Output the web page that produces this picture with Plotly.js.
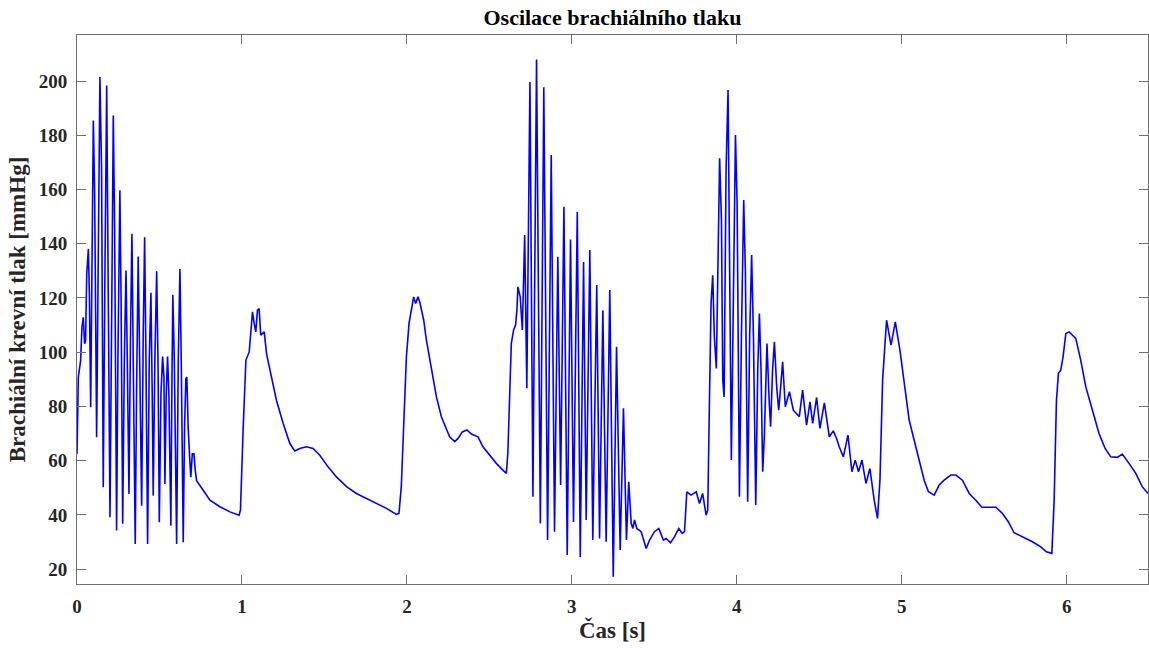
<!DOCTYPE html>
<html>
<head>
<meta charset="utf-8">
<script src="https://cdn.plot.ly/plotly-3.0.1.min.js"></script>
<style>html,body{margin:0;padding:0;background:#fff;}#chart{width:1149px;height:648px;}</style>
</head>
<body>
<div id="chart"></div>
<script>
// Time [s]
const timeA = [0, 0.008, 0.022, 0.030, 0.038, 0.046, 0.052, 0.059, 0.069, 0.075, 0.083, 0.091, 0.099, 0.107, 0.119, 0.127, 0.139, 0.149, 0.159, 0.170, 0.176, 0.180, 0.188, 0.200, 0.208, 0.220, 0.228, 0.240, 0.248, 0.256, 0.260, 0.267, 0.277, 0.287, 0.297, 0.305, 0.315, 0.325, 0.333, 0.341, 0.353, 0.361, 0.371, 0.380, 0.392, 0.402, 0.410, 0.418, 0.428, 0.438, 0.448, 0.456, 0.462, 0.472, 0.483, 0.491, 0.499, 0.509, 0.519, 0.527, 0.533, 0.541, 0.549, 0.557, 0.569, 0.575, 0.581, 0.590, 0.604, 0.614, 0.624, 0.632, 0.644, 0.652, 0.660, 0.666, 0.674, 0.684, 0.690, 0.699, 0.709, 0.717, 0.725];
const pressA = [62.5, 90.8, 96.9, 109.2, 112.9, 103.1, 104.3, 128.9, 138.1, 121.5, 79.7, 121.5, 185.5, 158.4, 68.6, 121.5, 201.5, 167.0, 50.2, 133.8, 195.3, 198.4, 133.8, 39.1, 96.9, 187.3, 146.1, 34.2, 96.9, 144.9, 159.7, 121.5, 36.7, 96.9, 130.1, 96.9, 47.7, 109.2, 143.7, 96.9, 29.3, 84.6, 135.3, 96.9, 43.4, 109.2, 142.4, 96.9, 29.3, 96.9, 121.9, 84.6, 47.1, 96.9, 129.9, 96.9, 37.3, 84.6, 98.4, 90.8, 51.4, 84.6, 98.4, 84.6, 36.0, 84.6, 121.2, 96.9, 29.3, 96.9, 130.7, 96.9, 29.9, 72.3, 90.2, 90.8, 72.3, 60.0, 53.9, 62.5, 62.5, 56.3, 52.6];

const timeB = [0.765, 0.806, 0.866, 0.927, 0.983, 0.991, 1.007, 1.024, 1.044, 1.052, 1.064, 1.074, 1.084, 1.094, 1.104, 1.114, 1.125, 1.135, 1.149, 1.179, 1.209, 1.250, 1.290, 1.320, 1.351, 1.391, 1.431, 1.472, 1.522, 1.573, 1.634, 1.694, 1.755, 1.815, 1.876, 1.936, 1.952, 1.966, 1.981, 1.997, 2.013, 2.027, 2.041, 2.053, 2.067, 2.078, 2.102, 2.118, 2.148, 2.179, 2.209, 2.239, 2.259, 2.290, 2.310, 2.336, 2.364, 2.391, 2.431, 2.461, 2.501, 2.542, 2.582, 2.603];
const pressB = [49.1, 45.4, 43.0, 41.1, 39.9, 41.8, 71.3, 97.1, 100.1, 105.7, 114.9, 110.6, 107.5, 115.5, 116.1, 106.3, 106.9, 107.5, 99.5, 90.9, 82.3, 73.7, 66.4, 63.6, 64.5, 65.1, 64.5, 62.0, 57.7, 54.0, 50.4, 47.9, 46.1, 44.2, 42.4, 40.2, 40.5, 50.4, 77.4, 98.3, 110.6, 115.5, 120.4, 118.0, 120.4, 118.5, 111.8, 104.5, 93.4, 83.5, 76.2, 71.3, 68.8, 67.0, 68.2, 70.6, 71.3, 69.8, 68.8, 65.1, 62.0, 59.0, 56.5, 55.3];

const timeC = [2.612, 2.633, 2.647, 2.659, 2.667, 2.673, 2.687, 2.700, 2.714, 2.727, 2.746, 2.764, 2.786, 2.809, 2.830, 2.853, 2.875, 2.895, 2.915, 2.932, 2.952, 2.972, 2.992, 3.010, 3.033, 3.051, 3.071, 3.087, 3.109, 3.127, 3.151, 3.168, 3.188, 3.208, 3.230, 3.251, 3.271, 3.293, 3.313, 3.331, 3.345, 3.360, 3.370, 3.380, 3.394, 3.420, 3.451, 3.471];
const pressC = [62.7, 103.2, 108.2, 110.0, 115.5, 124.1, 120.4, 108.2, 143.2, 86.7, 199.7, 46.7, 208.0, 36.8, 197.7, 30.7, 172.7, 33.8, 135.2, 51.0, 153.6, 25.2, 141.6, 37.4, 151.8, 24.5, 133.3, 38.1, 137.7, 30.7, 124.8, 31.3, 115.5, 30.1, 122.9, 17.2, 102.0, 27.0, 79.3, 30.7, 52.2, 36.8, 35.0, 38.1, 35.0, 33.8, 27.6, 30.7];

const timeD = [3.501, 3.527, 3.555, 3.572, 3.598, 3.622, 3.648, 3.669, 3.683, 3.697, 3.723, 3.754, 3.774, 3.793, 3.814, 3.824, 3.834, 3.844, 3.854, 3.864, 3.876, 3.887, 3.896, 3.907, 3.915, 3.923, 3.935, 3.947, 3.955, 3.967, 3.979, 3.992, 4.002, 4.016, 4.028, 4.042, 4.052, 4.066, 4.078, 4.090, 4.101, 4.115, 4.127, 4.137, 4.147, 4.157, 4.167, 4.183, 4.197, 4.205, 4.217, 4.228, 4.242, 4.254, 4.266, 4.278, 4.294];
const pressD = [33.8, 35.0, 30.7, 31.3, 29.7, 31.9, 35.0, 33.2, 33.8, 48.5, 47.3, 48.5, 44.2, 47.9, 39.9, 41.8, 81.1, 118.0, 128.4, 105.7, 94.0, 135.2, 171.5, 148.7, 89.7, 83.5, 167.2, 196.7, 148.7, 60.2, 118.0, 180.1, 154.9, 46.7, 105.7, 156.1, 130.3, 44.8, 105.7, 135.8, 105.7, 43.6, 93.4, 114.3, 93.4, 55.9, 68.8, 103.2, 81.1, 72.5, 93.4, 103.8, 87.2, 78.6, 87.2, 96.5, 79.9];

const timeE = [4.319, 4.343, 4.363, 4.379, 4.399, 4.423, 4.444, 4.460, 4.484, 4.504, 4.531, 4.561, 4.585, 4.605, 4.621, 4.646, 4.674, 4.698, 4.718, 4.738, 4.759, 4.783, 4.807, 4.833, 4.853, 4.868, 4.884, 4.908, 4.935, 4.961, 4.989, 5.015, 5.045, 5.075, 5.106, 5.136, 5.162, 5.197, 5.227, 5.257, 5.298, 5.328, 5.368, 5.409];
const pressE = [85.4, 78.6, 77.4, 76.2, 86.0, 73.1, 81.7, 73.7, 83.3, 71.9, 81.3, 68.8, 71.0, 68.2, 65.1, 61.4, 69.4, 55.9, 60.2, 55.9, 60.2, 51.6, 57.1, 45.4, 38.7, 52.8, 89.7, 111.8, 102.6, 111.2, 100.8, 88.5, 75.0, 67.6, 60.2, 52.8, 48.5, 47.3, 51.0, 52.8, 54.7, 54.7, 52.8, 47.9];

const timeF = [5.449, 5.486, 5.530, 5.571, 5.611, 5.647, 5.681, 5.732, 5.792, 5.843, 5.877, 5.910, 5.924, 5.938, 5.950, 5.964, 5.978, 5.995, 6.015, 6.055, 6.085, 6.116, 6.156, 6.196, 6.233, 6.267, 6.307, 6.337, 6.378, 6.419, 6.458, 6.493];
const pressF = [45.4, 42.8, 42.8, 42.8, 40.5, 37.4, 33.4, 31.9, 30.1, 28.2, 26.4, 25.8, 45.4, 82.3, 92.2, 93.4, 98.3, 106.9, 107.5, 105.1, 97.1, 87.2, 78.6, 70.0, 64.5, 61.4, 61.2, 62.4, 59.0, 55.3, 50.4, 47.9];

const xTicks = [0, 1, 2, 3, 4, 5, 6];
const yTicks = [20, 40, 60, 80, 100, 120, 140, 160, 180, 200];

const time = [].concat(timeA, timeB, timeC, timeD, timeE, timeF);
const pressure = [].concat(pressA, pressB, pressC, pressD, pressE, pressF);

const fontFam = '"Liberation Serif", "Times New Roman", serif';
const axisCol = 'rgb(110,110,110)';
const txtCol = '#262626';

const trace = {
  x: time, y: pressure, type: 'scatter', mode: 'lines',
  line: {color: '#0000ff', width: 1.6},
  hoverinfo: 'x+y', showlegend: false
};

const axisCommon = {
  showline: true, mirror: 'ticks', linecolor: axisCol, linewidth: 1,
  ticks: 'inside', ticklen: 9, tickwidth: 1, tickcolor: axisCol,
  showgrid: false, zeroline: false, ticklabelstandoff: 5,
  tickfont: {family: fontFam, size: 19, color: txtCol, weight: 'bold'}
};

const layout = {
  width: 1149, height: 648,
  paper_bgcolor: '#fff', plot_bgcolor: '#fff',
  margin: {l: 77, r: 1, t: 35, b: 64},
  title: {text: 'Oscilace brachiálního tlaku', x: 0.533, xanchor: 'center', y: 0.974, yanchor: 'middle', yref: 'container',
          font: {family: fontFam, size: 22, color: '#000', weight: 'bold'}},
  xaxis: Object.assign({}, axisCommon, {
    range: [0, 6.493], tickvals: xTicks, ticktext: xTicks.map(String),
    title: {text: 'Čas [s]', standoff: 6, font: {family: fontFam, size: 23, color: txtCol, weight: 'bold'}}
  }),
  yaxis: Object.assign({}, axisCommon, {
    range: [14.5, 217], tickvals: yTicks, ticktext: yTicks.map(String),
    title: {text: 'Brachiální krevní tlak [mmHg]', standoff: 6, font: {family: fontFam, size: 23, color: txtCol, weight: 'bold'}}
  })
};

Plotly.newPlot('chart', [trace], layout, {displayModeBar: false, responsive: false});
</script>
</body>
</html>
